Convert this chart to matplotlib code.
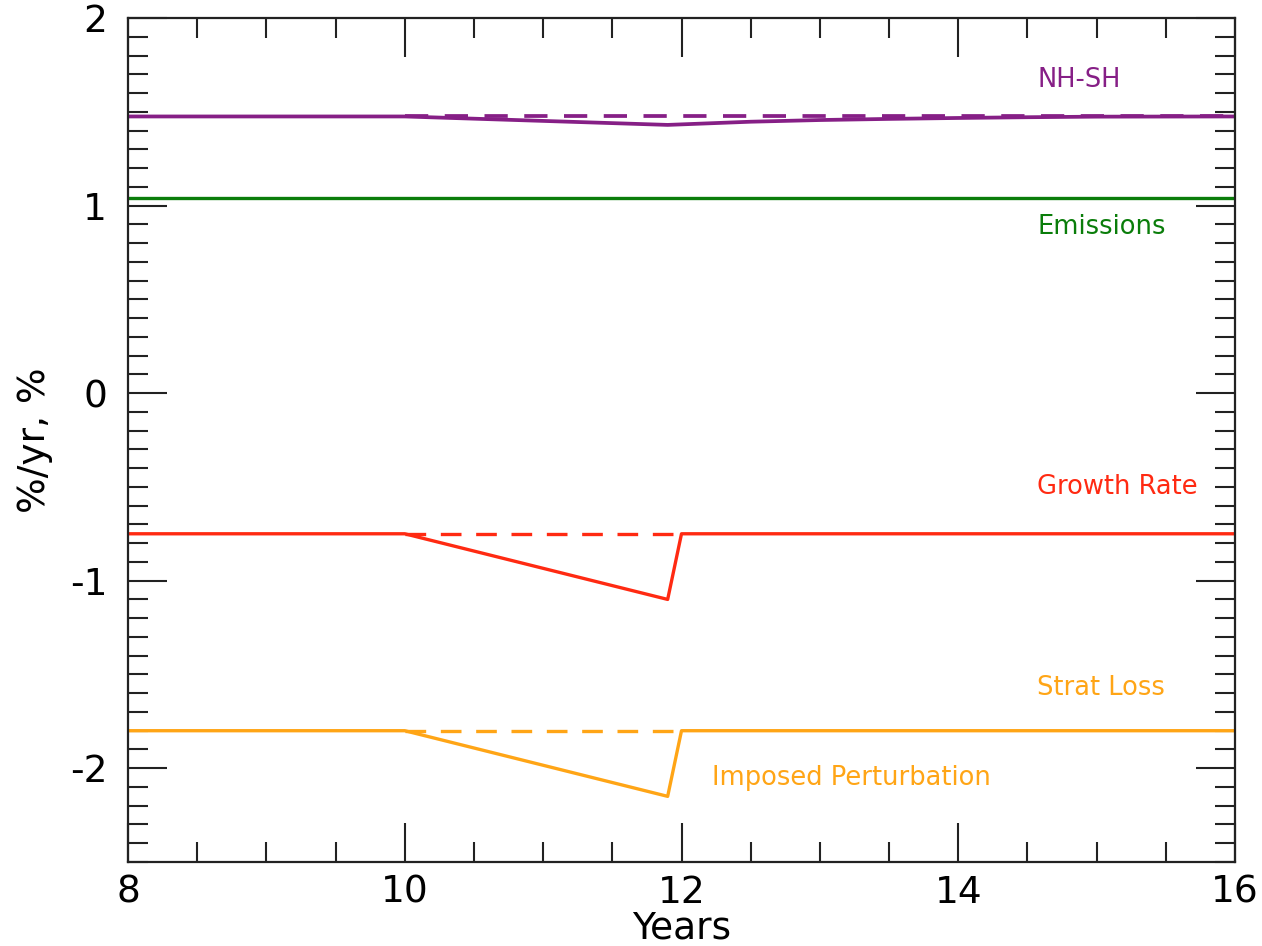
import matplotlib
matplotlib.use("Agg")
import matplotlib.pyplot as plt
from matplotlib.ticker import MultipleLocator

plt.rcParams["axes.unicode_minus"] = False

# Time axis (years) and the series drawn on it
years_flat = [8, 10, 11.9, 12, 16]
growth_rate = [-0.75, -0.75, -1.10, -0.75, -0.75]
strat_loss = [-1.80, -1.80, -2.15, -1.80, -1.80]

years_nhsh = [8, 10, 11.9, 12.5, 13.0, 13.5, 14.0, 14.5, 15.0, 16]
nh_sh = [1.475, 1.475, 1.43, 1.447, 1.456, 1.462, 1.467, 1.471, 1.474, 1.475]

years_emis = [8, 16]
emissions = [1.04, 1.04]

# Unperturbed reference levels (dashed)
years_ref_short = [10, 12]
growth_ref = [-0.75, -0.75]
strat_ref = [-1.80, -1.80]
years_ref_long = [10, 16]
nhsh_ref = [1.475, 1.475]

PURPLE = "#861f86"
GREEN = "#0a7d0a"
RED = "#ff2a12"
ORANGE = "#ffa516"

fig = plt.figure(figsize=(12.62, 9.46), dpi=100)
ax = fig.add_axes([128 / 1262, 1 - 862 / 946, (1235 - 128) / 1262, (862 - 18) / 946])

lw = 2.4
dash = (6.2, 4.4)
ax.plot(years_emis, emissions, color=GREEN, lw=lw)
ax.plot(years_ref_long, nhsh_ref, color=PURPLE, lw=lw + 0.3, dashes=dash)
ax.plot(years_nhsh, nh_sh, color=PURPLE, lw=lw + 0.3)
ax.plot(years_ref_short, growth_ref, color=RED, lw=lw, dashes=dash)
ax.plot(years_flat, growth_rate, color=RED, lw=lw)
ax.plot(years_ref_short, strat_ref, color=ORANGE, lw=lw, dashes=dash)
ax.plot(years_flat, strat_loss, color=ORANGE, lw=lw)

lab_fs = 18.5
ax.text(14.57, 1.67, "NH-SH", color=PURPLE, fontsize=lab_fs, va="center", ha="left")
ax.text(14.57, 0.887, "Emissions", color=GREEN, fontsize=lab_fs, va="center", ha="left")
ax.text(14.57, -0.50, "Growth Rate", color=RED, fontsize=lab_fs, va="center", ha="left")
ax.text(14.57, -1.573, "Strat Loss", color=ORANGE, fontsize=lab_fs, va="center", ha="left")
ax.text(12.22, -2.05, "Imposed Perturbation", color=ORANGE, fontsize=lab_fs, va="center", ha="left")

ax.set_xlim(8, 16)
ax.set_ylim(-2.5, 2)
ax.xaxis.set_major_locator(MultipleLocator(2))
ax.xaxis.set_minor_locator(MultipleLocator(0.5))
ax.yaxis.set_major_locator(MultipleLocator(1))
ax.yaxis.set_minor_locator(MultipleLocator(0.1))
ax.tick_params(which="both", direction="in", top=True, right=True, width=1.5, colors="#222222",
               labelcolor="black", labelsize=27)
ax.tick_params(which="major", length=28)
ax.tick_params(which="minor", length=14.5)
ax.tick_params(axis="x", which="major", pad=9)
ax.tick_params(axis="y", which="major", pad=15)
for s in ax.spines.values():
    s.set_linewidth(1.6)
    s.set_color("#222222")

ax.set_xlabel("Years", fontsize=27, labelpad=0)
ax.set_ylabel("%/yr, %", fontsize=27, labelpad=12)

fig.savefig("out.png", dpi=100)
